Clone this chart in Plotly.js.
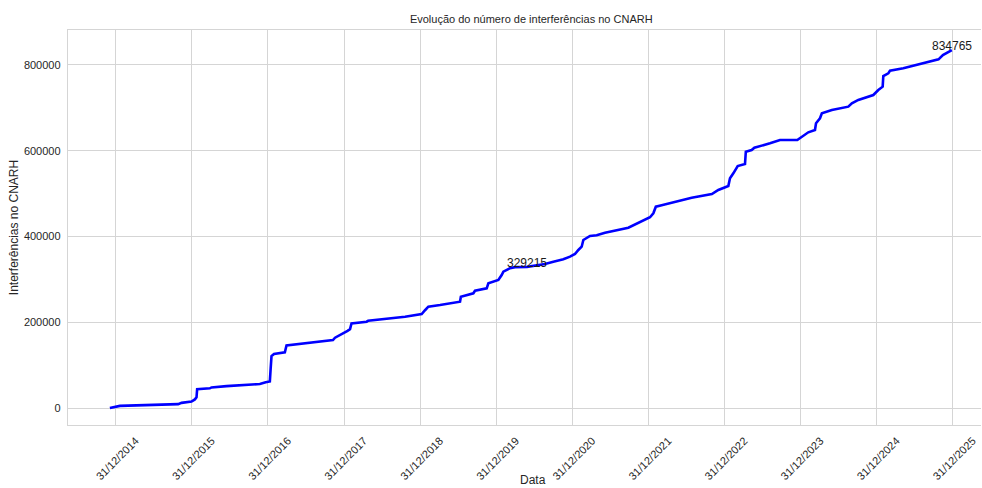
<!DOCTYPE html>
<html>
<head>
<meta charset="utf-8">
<script src="https://cdn.plot.ly/plotly-3.0.1.min.js"></script>
<style>html,body{margin:0;padding:0;background:#fff;}#chart{width:982px;height:488px;}</style>
</head>
<body>
<div id="chart"></div>
<script>
const dates = [
"2014-12-03","2014-12-27","2015-01-20","2015-10-27","2015-11-12","2015-12-30","2016-01-15","2016-01-23","2016-01-26","2016-03-27",
"2016-04-04","2016-06-15","2016-11-22","2016-12-20","2017-01-09","2017-01-13","2017-01-17","2017-01-29","2017-03-22","2017-03-30",
"2017-11-08","2017-11-18","2017-12-20","2018-01-17","2018-01-29","2018-02-05","2018-04-19","2018-04-26","2018-10-20","2019-01-08",
"2019-01-24","2019-02-09","2019-04-06","2019-07-11","2019-07-15","2019-09-13","2019-09-21","2019-11-16","2019-11-24","2020-01-11",
"2020-01-27","2020-02-04","2020-03-07","2020-03-31","2020-05-28","2020-08-22","2020-10-01","2020-11-18","2020-12-20","2021-01-13",
"2021-01-29","2021-02-14","2021-02-22","2021-03-26","2021-04-27","2021-06-06","2021-09-26","2021-10-28","2021-12-15","2022-01-08",
"2022-01-24","2022-02-05","2022-03-05","2022-05-08","2022-07-27","2022-11-01","2022-12-02","2023-01-19","2023-01-27","2023-02-12",
"2023-03-05","2023-04-09","2023-04-13","2023-05-11","2023-05-24","2023-08-07","2023-09-24","2023-12-16","2024-01-07","2024-02-07",
"2024-03-10","2024-03-15","2024-04-03","2024-04-12","2024-05-30","2024-08-17","2024-09-03","2024-10-04","2024-12-15","2025-01-08",
"2025-01-29","2025-02-01","2025-02-25","2025-03-05","2025-05-08","2025-08-05","2025-10-24","2025-11-14","2025-12-27"
];
const counts = [
0,3000,5000,9000,12000,15000,20000,25000,44000,46000,
48000,51000,56000,60000,62000,93000,121000,126000,130000,146000,
158600,164000,172000,180000,184000,197000,201300,203600,213000,219200,
228000,236300,240200,248000,259600,267500,273600,279200,290800,298500,
310200,317900,326000,328500,329215,335900,341200,346800,352900,359200,
368500,376200,391800,401200,402800,408900,420500,428400,440100,444800,
454100,469500,472800,481200,490600,499100,508500,517800,535700,547300,
564400,569100,597800,601700,607100,617300,625100,625100,632800,643000,
648400,664000,675700,687300,695000,702800,710600,718400,730000,741700,
749400,774300,780500,786700,792200,803900,813200,823300,834765
];
const tickYears = [2014,2015,2016,2017,2018,2019,2020,2021,2022,2023,2024,2025];
const tickVals = tickYears.map(y => y + "-12-31");
const tickText = tickYears.map(y => "31/12/" + y);
const yTicks = [0,200000,400000,600000,800000];
const labelled = [{date:"2020-05-28", value:329215},{date:"2025-12-27", value:834765}];

const font = "Liberation Sans, Arial, sans-serif";
const trace = {
  x: dates, y: counts, type: "scatter", mode: "lines",
  line: {color: "#0000ff", width: 2.6}, hoverinfo: "x+y"
};
const annots = labelled.map(p => ({
  x: p.date, y: p.value, xref: "x", yref: "y", text: String(p.value),
  showarrow: false, xanchor: "center", yanchor: "bottom", yshift: -5,
  font: {family: font, size: 12, color: "#1a1a1a"}
}));
annots.push({
  text: "Data", xref: "paper", yref: "paper", x: 0.509, y: -0.139,
  xanchor: "center", yanchor: "middle", showarrow: false,
  font: {family: font, size: 12, color: "#262626"}
});
const layout = {
  width: 982, height: 488,
  margin: {l: 68, r: 1, t: 30, b: 63},
  paper_bgcolor: "#ffffff", plot_bgcolor: "#ffffff",
  font: {family: font, size: 11, color: "#262626"},
  showlegend: false,
  title: {text: "Evolução do número de interferências no CNARH", font: {family: font, size: 11, color: "#262626"},
          xref: "container", x: 0.541, xanchor: "center", yref: "container", y: 0.96, yanchor: "middle"},
  xaxis: {
    type: "date", range: ["2014-05-16", "2026-05-16"],
    tickvals: tickVals, ticktext: tickText, tickangle: -45, ticklabelshift: 20, ticklabelstandoff: 4,
    showgrid: true, gridcolor: "#d5d5d5", gridwidth: 1,
    showline: true, mirror: true, linecolor: "#d5d5d5", linewidth: 1.2,
    zeroline: false, ticks: "",
    tickfont: {family: font, size: 11, color: "#262626"},
    automargin: false
  },
  yaxis: {
    range: [-39650, 881600],
    tickvals: yTicks, tickformat: "d",
    showgrid: true, gridcolor: "#d5d5d5", gridwidth: 1,
    showline: true, mirror: false, linecolor: "#d5d5d5", linewidth: 1.2,
    zeroline: false, ticks: "", ticklabelstandoff: 4,
    tickfont: {family: font, size: 11, color: "#262626"},
    title: {text: "Interferências no CNARH", font: {family: font, size: 12, color: "#262626"}, standoff: 2},
    automargin: false
  },
  annotations: annots
};
Plotly.newPlot("chart", [trace], layout, {displayModeBar: false, staticPlot: true});
</script>
</body>
</html>
